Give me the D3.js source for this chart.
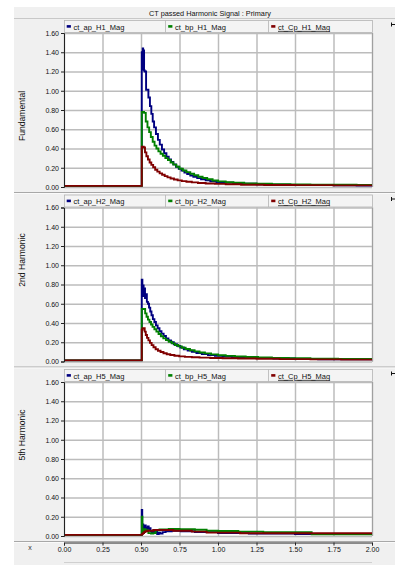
<!DOCTYPE html>
<html>
<head>
<meta charset="utf-8">
<script src="https://cdn.jsdelivr.net/npm/d3@7"></script>
<style>
  html, body { margin: 0; padding: 0; background: #fff; }
  svg { display: block; font-family: "Liberation Sans", Arial, sans-serif; }
</style>
</head>
<body>
<svg id="chart" width="395" height="565"></svg>
<script>
// Chart data
const chartTitle = 'CT passed Harmonic Signal : Primary';
const panelLabels = ['Fundamental', '2nd Harmonic', '5th Harmonic'];
const legendNames = [
  ['ct_ap_H1_Mag', 'ct_bp_H1_Mag', 'ct_Cp_H1_Mag'],
  ['ct_ap_H2_Mag', 'ct_bp_H2_Mag', 'ct_Cp_H2_Mag'],
  ['ct_ap_H5_Mag', 'ct_bp_H5_Mag', 'ct_Cp_H5_Mag']
];
const seriesColors = ['#000080', '#008000', '#800000'];
const yTicks = [0, 0.2, 0.4, 0.6, 0.8, 1.0, 1.2, 1.4, 1.6];
const xTicks = [0, 0.25, 0.5, 0.75, 1.0, 1.25, 1.5, 1.75, 2.0];

// [time, magnitude] step points
const apH1 = [[0,0.012],[0.505,1.40],[0.508,1.22],[0.511,1.44],[0.514,1.25],[0.517,1.42],[0.52,1.21],
  [0.524,1.20],[0.533,1.01],[0.548,0.93],[0.558,0.84],[0.567,0.76],[0.576,0.68],[0.585,0.62],[0.597,0.55],
  [0.61,0.49],[0.622,0.44],[0.636,0.39],[0.65,0.35],[0.665,0.315],[0.68,0.285],[0.695,0.26],[0.71,0.235],
  [0.727,0.21],[0.745,0.19],[0.763,0.17],[0.782,0.15],[0.8,0.135],[0.82,0.12],[0.84,0.105],[0.865,0.092],
  [0.89,0.08],[0.92,0.07],[0.95,0.06],[0.99,0.052],[1.04,0.045],[1.1,0.038],[1.17,0.033],[1.25,0.029],
  [1.35,0.025],[1.47,0.022],[1.6,0.02],[1.75,0.018],[1.9,0.016],[2.0,0.016]];
const bpH1 = [[0,0.012],[0.505,0.78],[0.52,0.77],[0.531,0.68],[0.542,0.62],[0.553,0.57],[0.564,0.52],
  [0.576,0.47],[0.588,0.43],[0.6,0.40],[0.613,0.37],[0.627,0.345],[0.642,0.325],[0.658,0.30],[0.675,0.28],
  [0.692,0.255],[0.71,0.232],[0.73,0.21],[0.75,0.19],[0.772,0.172],[0.795,0.155],[0.82,0.138],[0.845,0.122],
  [0.872,0.107],[0.9,0.093],[0.93,0.08],[0.965,0.068],[1.0,0.058],[1.05,0.05],[1.1,0.044],[1.17,0.038],
  [1.25,0.034],[1.35,0.03],[1.47,0.027],[1.6,0.025],[1.75,0.023],[1.9,0.021],[2.0,0.021]];
const cpH1 = [[0,0.012],[0.505,0.42],[0.518,0.41],[0.526,0.36],[0.535,0.32],[0.545,0.285],[0.556,0.255],
  [0.567,0.23],[0.579,0.205],[0.592,0.18],[0.606,0.16],[0.621,0.142],[0.637,0.127],[0.654,0.113],[0.672,0.1],
  [0.692,0.089],[0.714,0.078],[0.738,0.069],[0.765,0.061],[0.795,0.054],[0.83,0.048],[0.87,0.042],[0.92,0.037],
  [0.98,0.032],[1.05,0.028],[1.15,0.024],[1.3,0.021],[1.5,0.019],[1.75,0.017],[2.0,0.017]];

const apH2 = [[0,0.012],[0.505,0.85],[0.509,0.70],[0.513,0.79],[0.517,0.68],[0.521,0.76],[0.526,0.66],
  [0.532,0.70],[0.538,0.62],[0.545,0.60],[0.552,0.56],[0.56,0.52],[0.568,0.48],[0.577,0.44],[0.587,0.41],
  [0.597,0.375],[0.608,0.345],[0.62,0.315],[0.633,0.29],[0.647,0.265],[0.662,0.24],[0.678,0.22],[0.695,0.2],
  [0.713,0.18],[0.733,0.162],[0.755,0.145],[0.778,0.128],[0.803,0.113],[0.83,0.1],[0.86,0.088],[0.895,0.077],
  [0.935,0.066],[0.98,0.058],[1.03,0.051],[1.09,0.045],[1.16,0.04],[1.25,0.035],[1.36,0.031],[1.5,0.027],
  [1.65,0.024],[1.82,0.022],[2.0,0.022]];
const bpH2 = [[0,0.012],[0.505,0.545],[0.527,0.50],[0.536,0.465],[0.545,0.435],[0.555,0.41],[0.565,0.385],
  [0.575,0.36],[0.587,0.335],[0.6,0.31],[0.614,0.285],[0.629,0.262],[0.645,0.24],[0.662,0.222],[0.68,0.205],
  [0.7,0.188],[0.72,0.172],[0.742,0.157],[0.765,0.143],[0.79,0.13],[0.818,0.117],[0.848,0.105],[0.88,0.094],
  [0.915,0.084],[0.955,0.074],[1.0,0.065],[1.05,0.058],[1.11,0.052],[1.18,0.046],[1.26,0.041],[1.35,0.037],
  [1.46,0.033],[1.6,0.03],[1.78,0.027],[2.0,0.027]];
const cpH2 = [[0,0.012],[0.505,0.33],[0.51,0.345],[0.524,0.31],[0.531,0.275],[0.539,0.245],[0.548,0.22],
  [0.558,0.193],[0.569,0.17],[0.581,0.148],[0.595,0.128],[0.61,0.112],[0.627,0.098],[0.646,0.086],[0.667,0.076],
  [0.69,0.067],[0.717,0.06],[0.748,0.053],[0.785,0.048],[0.83,0.044],[0.88,0.04],[0.95,0.037],[1.03,0.034],
  [1.13,0.031],[1.25,0.028],[1.4,0.025],[1.6,0.022],[1.8,0.02],[2.0,0.02]];

const apH5 = [[0,0.012],[0.505,0.27],[0.508,0.05],[0.511,0.12],[0.515,0.06],[0.519,0.10],[0.523,0.07],
  [0.527,0.11],[0.531,0.06],[0.535,0.09],[0.54,0.07],[0.545,0.10],[0.55,0.06],[0.556,0.08],[0.562,0.05],
  [0.57,0.04],[0.578,0.055],[0.586,0.03],[0.595,0.045],[0.605,0.02],[0.615,0.035],[0.625,0.025],[0.64,0.04],
  [0.66,0.05],[0.7,0.055],[0.76,0.05],[0.85,0.04],[1.0,0.03],[1.2,0.025],[1.5,0.02],[2.0,0.02]];
const bpH5 = [[0,0.012],[0.505,0.20],[0.509,0.07],[0.514,0.05],[0.52,0.07],[0.53,0.06],[0.548,0.03],
  [0.565,0.025],[0.58,0.03],[0.595,0.06],[0.62,0.068],[0.68,0.072],[0.75,0.07],[0.85,0.065],[0.926,0.055],
  [1.0,0.052],[1.132,0.045],[1.294,0.04],[1.608,0.018],[2.0,0.018]];
const cpH5 = [[0,0.012],[0.505,0.02],[0.512,0.03],[0.52,0.04],[0.528,0.05],[0.54,0.055],[0.58,0.062],
  [0.71,0.055],[0.83,0.045],[0.926,0.035],[1.143,0.028],[2.0,0.028]];

const panelSeries = [[apH1, bpH1, cpH1], [apH2, bpH2, cpH2], [apH5, bpH5, cpH5]];

const svg = d3.select('#chart');
const plotLeft = 64, plotRight = 372, plotH = 154;
const blockH = 174.5;
const textColor = '#111';

// window background
svg.append('rect').attr('x', 14).attr('y', 7).attr('width', 381).attr('height', 558).attr('fill', '#f0f0f0');

// title bar
svg.append('line').attr('x1', 14).attr('x2', 395).attr('y1', 18.5).attr('y2', 18.5)
  .attr('stroke', '#c8c8c8');
svg.append('text').attr('x', 210).attr('y', 16).attr('text-anchor', 'middle')
  .attr('font-size', '7.3px').attr('fill', textColor).text(chartTitle);

const x = d3.scaleLinear().domain([0, 2]).range([plotLeft, plotRight]);

const line = d3.line().curve(d3.curveStepAfter);

panelSeries.forEach((series, i) => {
  const blockTop = 18.5 + i * blockH;
  const plotTop = blockTop + 14.5;
  const plotBottom = plotTop + plotH;
  const y = d3.scaleLinear().domain([0, 1.6]).range([plotBottom, plotTop]);
  const g = svg.append('g');

  g.append('rect').attr('x', plotLeft).attr('y', plotTop)
    .attr('width', plotRight - plotLeft).attr('height', plotH).attr('fill', '#fff');

  // grid
  g.append('g').attr('transform', `translate(${plotLeft},0)`)
    .call(d3.axisLeft(y).tickValues(yTicks).tickSize(-(plotRight - plotLeft)).tickFormat(''))
    .call(s => s.select('.domain').remove())
    .call(s => s.selectAll('line').attr('stroke', '#bcbcbc').attr('stroke-width', 1.5));
  g.append('g').attr('transform', `translate(0,${plotBottom})`)
    .call(d3.axisBottom(x).tickValues(xTicks).tickSize(-plotH).tickFormat(''))
    .call(s => s.select('.domain').remove())
    .call(s => s.selectAll('line').attr('stroke', '#bcbcbc').attr('stroke-width', 1.5));

  // plot right border
  g.append('line').attr('x1', plotRight + 0.5).attr('x2', plotRight + 0.5)
    .attr('y1', plotTop).attr('y2', plotBottom).attr('stroke', '#a0a0a0');

  // series
  const clipId = 'clip' + i;
  svg.append('clipPath').attr('id', clipId).append('rect')
    .attr('x', plotLeft).attr('y', plotTop - 1).attr('width', plotRight - plotLeft).attr('height', plotH + 1);
  const lines = g.append('g').attr('clip-path', `url(#${clipId})`);
  series.forEach((pts, k) => {
    line.x(d => x(d[0])).y(d => y(d[1]));
    lines.append('path').attr('d', line(pts)).attr('fill', 'none')
      .attr('stroke', seriesColors[k]).attr('stroke-width', 1.9);
  });

  // y axis
  g.append('g').attr('transform', `translate(${plotLeft},0)`)
    .call(d3.axisLeft(y).tickValues(yTicks).tickSize(3).tickPadding(2).tickFormat(d3.format('.2f')))
    .call(s => s.selectAll('text').attr('font-size', '7px').attr('fill', textColor)
      .attr('font-family', '"Liberation Sans", Arial, sans-serif'))
    .call(s => s.selectAll('line, path').attr('stroke', '#222'));

  // legend bar
  const legTop = blockTop + 2;
  g.append('rect').attr('x', plotLeft + 0.5).attr('y', legTop).attr('width', plotRight - plotLeft)
    .attr('height', 12).attr('fill', '#f4f4f4').attr('stroke', '#b4b4b4').attr('stroke-width', 0.8);
  const legX = [plotLeft, 165.5, 268.5];
  legendNames[i].forEach((name, k) => {
    if (k > 0) {
      g.append('line').attr('x1', legX[k]).attr('x2', legX[k]).attr('y1', legTop).attr('y2', legTop + 12)
        .attr('stroke', '#b4b4b4').attr('stroke-width', 0.8);
    }
    g.append('rect').attr('x', legX[k] + 2.7).attr('y', legTop + 4.6).attr('width', 4.2).attr('height', 2.6)
      .attr('fill', seriesColors[k]);
    g.append('text').attr('x', legX[k] + 9.5).attr('y', legTop + 9.4)
      .attr('font-size', '7.5px').attr('fill', textColor)
      .attr('text-decoration', k === 2 ? 'underline' : null).text(name);
  });

  // side label
  const labelY = [116, 260, 435][i];
  g.append('text').attr('transform', `translate(24.5,${labelY}) rotate(-90)`)
    .attr('text-anchor', 'middle').attr('font-size', '8.6px').attr('fill', textColor).text(panelLabels[i]);

  // right marker
  g.append('path').attr('d', `M391.5,${blockTop + 4}V${blockTop + 8}M391.5,${blockTop + 6}H395`)
    .attr('stroke', '#111').attr('fill', 'none');

  // separator
  const sepY = plotBottom + 5.5;
  g.append('line').attr('x1', 14).attr('x2', 395).attr('y1', sepY).attr('y2', sepY).attr('stroke', '#a8a8a8');
  g.append('line').attr('x1', 14).attr('x2', 395).attr('y1', sepY + 1).attr('y2', sepY + 1).attr('stroke', '#fafafa');
});

// x axis
const axisY = 542.5;
svg.append('g').attr('transform', `translate(0,${axisY})`)
  .call(d3.axisBottom(x).tickValues(xTicks).tickSize(3).tickPadding(2).tickFormat(d3.format('.2f')))
  .call(s => s.selectAll('text').attr('font-size', '7px').attr('fill', textColor)
    .attr('font-family', '"Liberation Sans", Arial, sans-serif'))
  .call(s => s.selectAll('line, path').attr('stroke', '#222'));
svg.append('text').attr('x', 30).attr('y', 550).attr('text-anchor', 'middle')
  .attr('font-size', '7px').attr('fill', '#333').text('x');

// bottom scroll strip
svg.append('line').attr('x1', plotLeft).attr('x2', plotRight).attr('y1', 562.5).attr('y2', 562.5)
  .attr('stroke', '#d0d0d0');
</script>
</body>
</html>
